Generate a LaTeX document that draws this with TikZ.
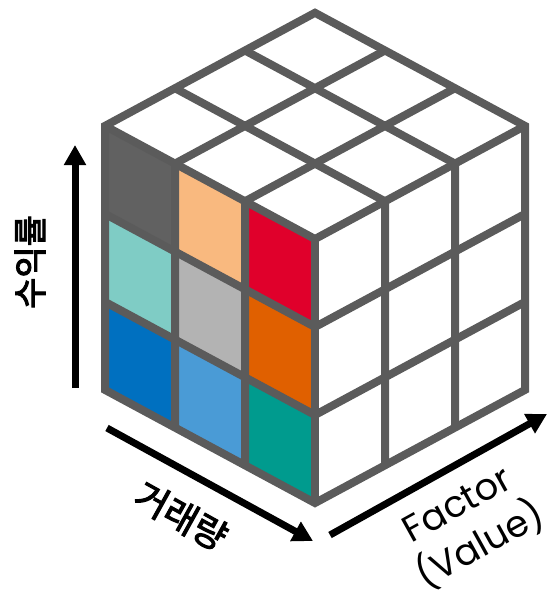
\documentclass[tikz,border=0pt]{standalone}
\usepackage{fontspec}
\setmainfont{Poppins}
\newfontfamily\krfont[FakeBold=3]{Noto Sans CJK KR}
\usetikzlibrary{arrows.meta}
\definecolor{GridGray}{HTML}{5B5B5B}
\definecolor{CellDark}{HTML}{616161}
\definecolor{CellPeach}{HTML}{F9B97F}
\definecolor{CellRed}{HTML}{E0002B}
\definecolor{CellMint}{HTML}{7FCCC5}
\definecolor{CellSilver}{HTML}{B3B3B3}
\definecolor{CellOrange}{HTML}{E06000}
\definecolor{CellBlue}{HTML}{0070C0}
\definecolor{CellSky}{HTML}{4A9BD6}
\definecolor{CellTeal}{HTML}{009B8E}

\begin{document}
\begin{tikzpicture}[x=1pt, y=-1pt,
    grid/.style={draw=GridGray, line width=8pt, line join=miter},
    axis/.style={-{Triangle[length=20pt, width=21pt]}, line width=7pt, black},
    axislabel/.style={inner sep=0pt, align=center}]
    \useasboundingbox (0,0) rectangle (549,597);

    \begin{scope}[shift={(315,503)}, x={(-70pt,37.7pt)}, y={(70pt,37.7pt)}, z={(0pt,88pt)}]
        % front face cells
        \foreach \c/\r/\col in {0/0/CellDark, 1/0/CellPeach, 2/0/CellRed,
                                0/1/CellMint, 1/1/CellSilver, 2/1/CellOrange,
                                0/2/CellBlue, 1/2/CellSky, 2/2/CellTeal}
            \fill[\col] (3-\c,0,3-\r) -- (2-\c,0,3-\r) -- (2-\c,0,2-\r) -- (3-\c,0,2-\r) -- cycle;

        % grid lines
        \foreach \i in {1,2} {
            \draw[grid] (\i,0,0) -- (\i,0,3) -- (\i,3,3);
            \draw[grid] (0,\i,0) -- (0,\i,3) -- (3,\i,3);
            \draw[grid] (3,0,\i) -- (0,0,\i) -- (0,3,\i);
        }
        \draw[grid] (3,0,3) -- (0,0,3) -- (0,3,3);
        \draw[grid] (0,0,0) -- (0,0,3);
        % outline
        \draw[grid] (0,0,0) -- (3,0,0) -- (3,0,3) -- (3,3,3) -- (0,3,3) -- (0,3,0) -- cycle;
    \end{scope}

    % Arrows
    \coordinate (retfrom) at (75,388);
    \coordinate (retto) at (75,145);
    \coordinate (volfrom) at (107,428);
    \coordinate (volto) at (313,541);
    \coordinate (facfrom) at (330,535);
    \coordinate (facto) at (547,414);
    \draw[axis] (retfrom) -- (retto);
    \draw[axis] (volfrom) -- (volto);
    \draw[axis] (facfrom) -- (facto);

    \node[axislabel, rotate=90, font=\krfont\fontsize{34}{40}\selectfont] (retlabel) at (30,262) {수익률};
    \node[axislabel, rotate=-29, font=\krfont\fontsize{36}{40}\selectfont] (vollabel) at (181,516) {거래량};
    \node[axislabel, rotate=29, font=\fontsize{37}{47}\selectfont] (faclabel) at (470,527) {Factor\\(Value)};
\end{tikzpicture}
\end{document}
